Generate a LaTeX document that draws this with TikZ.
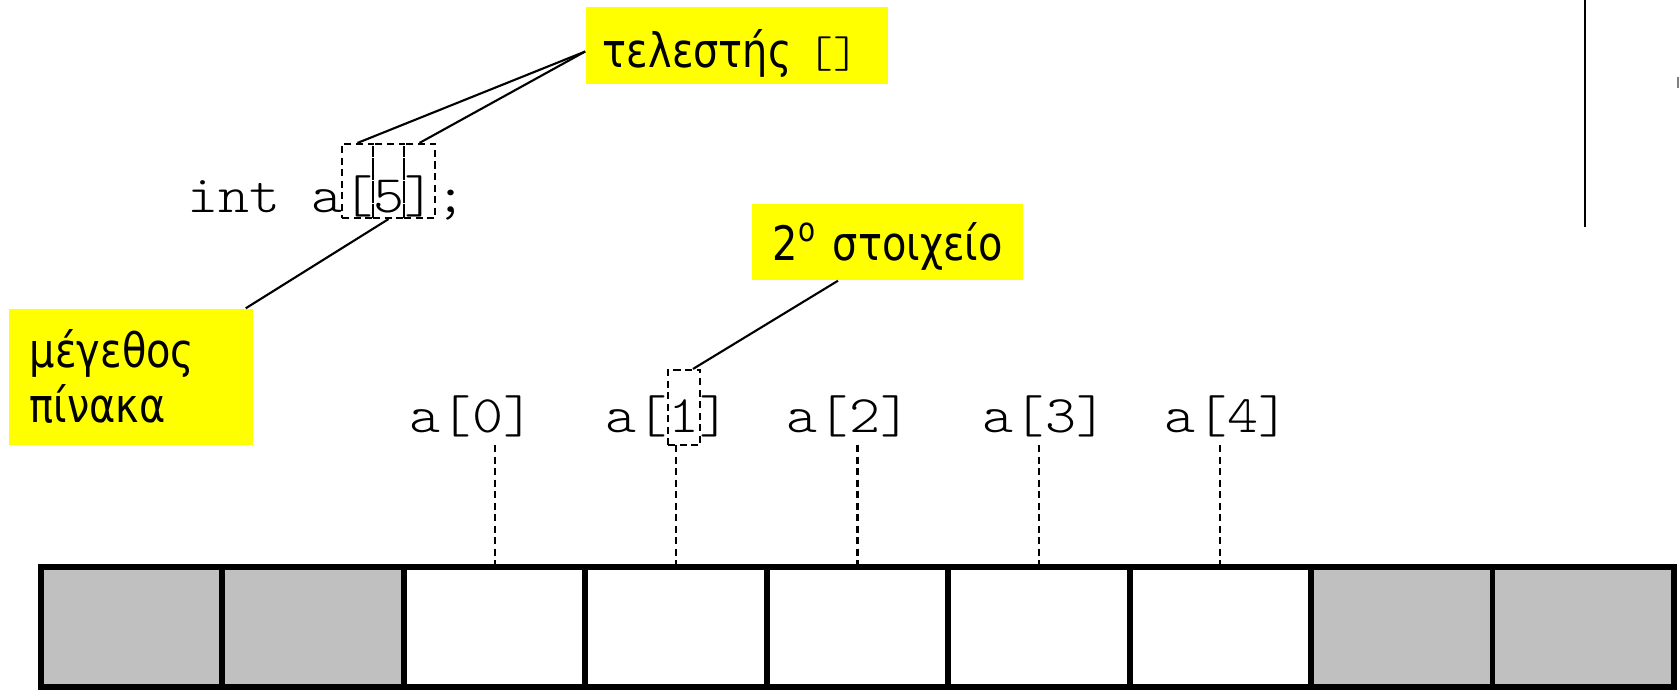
\documentclass[tikz,border=0pt]{standalone}
\usepackage{fontspec}
\usepackage{tikz}
\newfontfamily\lblfont[FakeStretch=0.84]{DejaVu Sans}
\newfontfamily\codefont[FakeStretch=1.12]{Latin Modern Mono Light}
\definecolor{cellgray}{RGB}{192,192,192}
\definecolor{notefill}{RGB}{255,255,0}

\begin{document}
\begin{tikzpicture}[x=0.01cm, y=-0.01cm]
			\tikzset{note/.style={fill = notefill, inner xsep = 0.21cm, inner ysep = 0, align = left,
					font = \lblfont\fontsize{13.5pt}{15.9pt}\selectfont}}
			\tikzset{cell/.style={draw, line width = 1.7pt, minimum width = 1.8144cm, minimum height = 1.2cm, inner sep = 0}}
			\tikzset{pick/.style={draw, dash pattern = on 0.07cm off 0.045cm, line width = 0.6pt, inner sep = 0}}
			\tikzset{code/.style={inner sep = 0, font = \codefont\fontsize{15pt}{17pt}\selectfont}}
			\tikzset{edge/.style={line width = 0.6pt}}
			\useasboundingbox (0,0) rectangle (1679,690);
			%cells
			\foreach \i in {0,1,7,8}
				\node[cell, fill = cellgray] (c\i) at ({41+181.44*(\i+0.5)}, 627) {};
			\foreach \i in {2,...,6}
				\node[cell, fill = white] (c\i) at ({41+181.44*(\i+0.5)}, 627) {};
			%element names
			\foreach \x/\n in {472/0, 668/1, 849/2, 1045/3, 1227/4}
				\node[code, anchor = base] (lbl\n) at (\x, 432) {a[\n]};
			\foreach \i in {2,...,6} {
				\path (c\i.north) ++(0,-119) coordinate (t\i);
				\draw[pick] (t\i) -- (c\i.north);
			}
			%declaration
			\node[code, anchor = base west] (decl) at (187, 212) {int a[5];};
			\node[pick, minimum width = 0.31cm, minimum height = 0.74cm] (lb) at (357.5, 181) {};
			\node[pick, minimum width = 0.31cm, minimum height = 0.74cm] (five) at (388.5, 181) {};
			\node[pick, minimum width = 0.31cm, minimum height = 0.74cm] (rb) at (419.5, 181) {};
			\node[pick, minimum width = 0.32cm, minimum height = 0.75cm] (one) at (684, 407.5) {};
			%notes
			\node[note, text width = 2.68cm, text height = 0.60cm, text depth = 0.17cm, inner xsep = 0.17cm] (op) at (737, 45.5)
				{\mbox{τελεστής {\codefont\fontsize{12.5pt}{14pt}\selectfont[]}}};
			\node[note, text width = 2.29cm, text height = 0.56cm, text depth = 0.20cm] (nth) at (887.5, 242)
				{\mbox{2\textsuperscript{ο} στοιχείο}};
			\node[note, text width = 2.02cm, text height = 0.58cm, text depth = 0.78cm] (sz) at (131, 377)
				{μέγεθος\\πίνακα};
			%edges
			\draw[edge] ([yshift=-0.06cm]op.west) -- (lb.north);
			\draw[edge] ([yshift=-0.06cm]op.west) -- (rb.north);
			\draw[edge] ([xshift=-0.08cm]sz.north east) -- (five.south);
			\draw[edge] ([xshift=-0.495cm]nth.south) -- ([xshift=0.09cm]one.north);
			%right margin
			\draw[line width = 0.6pt] (1585,0) -- (1585,227);
			\draw[line width = 0.6pt, gray] (1678,77) -- (1678,88);
\end{tikzpicture}
\end{document}
